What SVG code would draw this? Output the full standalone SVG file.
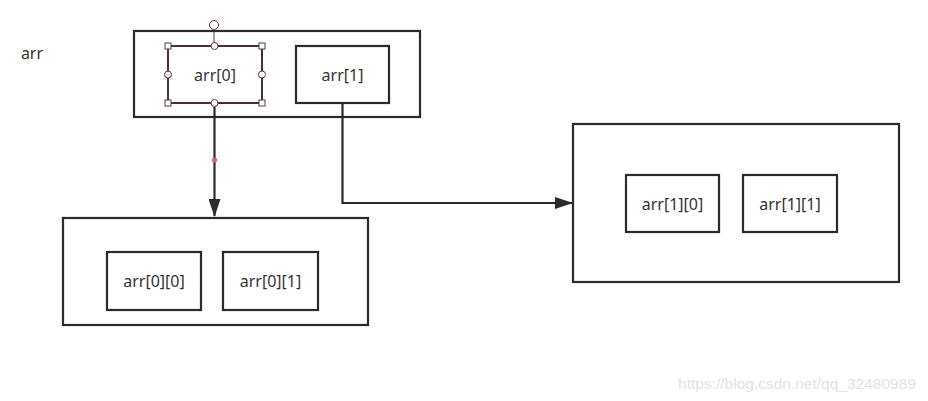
<svg xmlns="http://www.w3.org/2000/svg" width="928" height="401" viewBox="0 0 928 401">
<defs>
<style>
.box{fill:none;stroke:#2b2b2b;stroke-width:2.2}
.t{font-family:"Noto Sans","Open Sans",sans-serif;font-size:16px;fill:#333;text-anchor:middle;dominant-baseline:central}
.edge{fill:none;stroke:#2b2b2b;stroke-width:2.200}
.h{fill:#fff;stroke:#5a3a3a;stroke-width:1}
.sel{fill:none;stroke:#4a2f2f;stroke-width:2}
</style>
<marker id="ah" viewBox="0 0 18 12" refX="17" refY="6" markerWidth="18" markerHeight="12" markerUnits="userSpaceOnUse" orient="auto">
<path d="M0,0 L18,6 L0,12 z" fill="#2b2b2b"/>
</marker>
</defs>
<rect width="928" height="401" fill="#fff"/>
<text x="32" y="53" class="t">arr</text>
<g id="arr">
<rect x="134" y="31" width="286" height="86" class="box"/>
</g>
<g id="arr0">
<rect x="168" y="46" width="94" height="57" class="sel"/>
<text x="215" y="74.500" class="t">arr[0]</text>
<line x1="214" y1="30" x2="214" y2="46" stroke="#5a3a3a" stroke-width="1"/>
<circle cx="214" cy="25" r="4.500" class="h"/>
<rect x="165" y="43" width="6" height="6" class="h"/>
<rect x="259" y="43" width="6" height="6" class="h"/>
<rect x="165" y="100" width="6" height="6" class="h"/>
<rect x="259" y="100" width="6" height="6" class="h"/>
<circle cx="214.500" cy="46" r="3.500" class="h"/>
<circle cx="214.500" cy="103" r="3.500" class="h"/>
<circle cx="168" cy="74.500" r="3.500" class="h"/>
<circle cx="262" cy="74.500" r="3.500" class="h"/>
</g>
<g id="arr1">
<rect x="296" y="46" width="93" height="57" class="box"/>
<text x="342.500" y="74.500" class="t">arr[1]</text>
</g>
<g id="row0">
<rect x="63" y="218" width="305" height="107" class="box"/>
</g>
<g id="arr00">
<rect x="107" y="252" width="94" height="58" class="box"/>
<text x="154" y="281" class="t">arr[0][0]</text>
</g>
<g id="arr01">
<rect x="223" y="252" width="95" height="58" class="box"/>
<text x="270.500" y="281" class="t">arr[0][1]</text>
</g>
<g id="row1">
<rect x="573" y="124" width="326" height="158" class="box"/>
</g>
<g id="arr10">
<rect x="626" y="175" width="93" height="57" class="box"/>
<text x="672.500" y="203.500" class="t">arr[1][0]</text>
</g>
<g id="arr11">
<rect x="743" y="175" width="94" height="57" class="box"/>
<text x="790" y="203.500" class="t">arr[1][1]</text>
</g>
<g id="connectors">
<path d="M214.500,107 L214.500,216" class="edge" marker-end="url(#ah)"/>
<circle cx="214.500" cy="160" r="2.500" fill="#e06060"/>
<path d="M342.500,103 L342.500,203 L572,203" class="edge" marker-end="url(#ah)"/>
</g>
<text x="797" y="383" font-family="'Liberation Sans',Arial,sans-serif" font-size="15.500" fill="#e2e2e2" text-anchor="middle" dominant-baseline="central">https://blog.csdn.net/qq_32480989</text>
</svg>
